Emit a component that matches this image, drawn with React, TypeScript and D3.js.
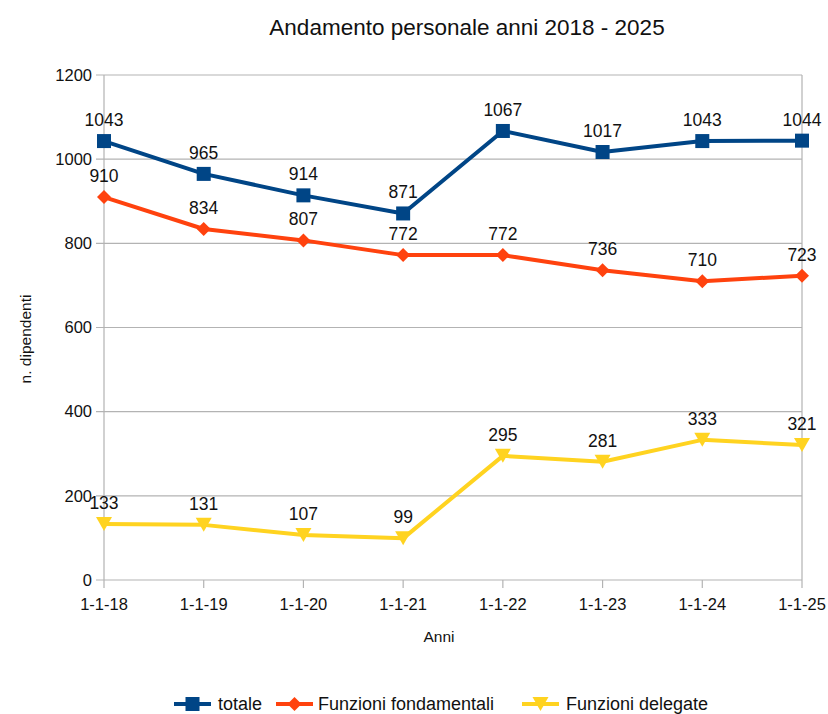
import React from "react";
import * as d3 from "d3";

const years = ["1-1-18", "1-1-19", "1-1-20", "1-1-21", "1-1-22", "1-1-23", "1-1-24", "1-1-25"];
const totale = [1043, 965, 914, 871, 1067, 1017, 1043, 1044];
const fondamentali = [910, 834, 807, 772, 772, 736, 710, 723];
const delegate = [133, 131, 107, 99, 295, 281, 333, 321];
const yTicks = [0, 200, 400, 600, 800, 1000, 1200];

const series = [
  { name: "totale", values: totale, color: "#004586", marker: "square" },
  { name: "Funzioni fondamentali", values: fondamentali, color: "#ff420e", marker: "diamond" },
  { name: "Funzioni delegate", values: delegate, color: "#ffd320", marker: "triangle" },
];

const font = "'Liberation Sans', Arial, sans-serif";

function marker(type: string, x: number, y: number, color: string, key?: string | number) {
  if (type === "square") return <rect key={key} x={x - 7} y={y - 7} width={14} height={14} fill={color} />;
  if (type === "diamond") return <path key={key} d={`M${x},${y - 7}L${x + 7},${y}L${x},${y + 7}L${x - 7},${y}Z`} fill={color} />;
  return <path key={key} d={`M${x - 8},${y - 7}L${x + 8},${y - 7}L${x},${y + 7}Z`} fill={color} />;
}

export default function App() {
  const width = 828;
  const height = 714;
  const margin = { top: 75, right: 26, bottom: 134, left: 104 };

  const x = d3
    .scalePoint()
    .domain(years)
    .range([margin.left, width - margin.right]);
  const y = d3
    .scaleLinear()
    .domain([0, 1200])
    .range([height - margin.bottom, margin.top]);

  const line = d3
    .line<number>()
    .x((_, i) => x(years[i])!)
    .y((d) => y(d));

  const legendY = 704;
  const legendItems = [
    { s: series[0], lx: 174, tx: 218 },
    { s: series[1], lx: 276, tx: 318 },
    { s: series[2], lx: 522, tx: 566 },
  ];

  return (
    <svg
      width={width}
      height={height}
      style={{ position: "absolute", left: 0, top: 0, background: "#fff" }}
      fontFamily={font}
    >
      <text x={467} y={35} textAnchor="middle" fontSize={22.5} fill="#111">
        Andamento personale anni 2018 - 2025
      </text>

      {yTicks.map((t) => (
        <g key={t}>
          <line x1={margin.left - 8} x2={width - margin.right} y1={y(t)} y2={y(t)} stroke="#b3b3b3" strokeWidth={1.2} />
          <text x={92} y={y(t)} dy="0.35em" textAnchor="end" fontSize={16.5} fill="#111">
            {t}
          </text>
        </g>
      ))}
      {years.map((yr, i) => (
        <g key={yr}>
          {(i === 0 || i === years.length - 1) && (
            <line x1={x(yr)} x2={x(yr)} y1={margin.top} y2={height - margin.bottom} stroke="#b3b3b3" strokeWidth={1.2} />
          )}
          <line x1={x(yr)} x2={x(yr)} y1={height - margin.bottom} y2={height - margin.bottom + 8} stroke="#b3b3b3" strokeWidth={1.2} />
          <text x={x(yr)} y={610} textAnchor="middle" fontSize={16.5} fill="#111">
            {yr}
          </text>
        </g>
      ))}

      <text x={439} y={642} textAnchor="middle" fontSize={15.5} fill="#111">
        Anni
      </text>
      <text transform="translate(31,339) rotate(-90)" textAnchor="middle" fontSize={15.5} fill="#111">
        n. dipendenti
      </text>

      {series.map((s) => (
        <g key={s.name}>
          <path d={line(s.values)!} fill="none" stroke={s.color} strokeWidth={4} strokeLinejoin="round" />
          {s.values.map((v, i) => marker(s.marker, x(years[i])!, y(v), s.color, i))}
          {s.values.map((v, i) => (
            <text key={"l" + i} x={x(years[i])!} y={y(v) - 15} textAnchor="middle" fontSize={17.5} fill="#111">
              {v}
            </text>
          ))}
        </g>
      ))}

      {legendItems.map(({ s, lx, tx }) => (
        <g key={s.name}>
          <line x1={lx} x2={lx + 37} y1={legendY} y2={legendY} stroke={s.color} strokeWidth={4} />
          {marker(s.marker, lx + 18.5, legendY, s.color)}
          <text x={tx} y={legendY} dy="0.35em" fontSize={18} fill="#111">
            {s.name}
          </text>
        </g>
      ))}
    </svg>
  );
}
